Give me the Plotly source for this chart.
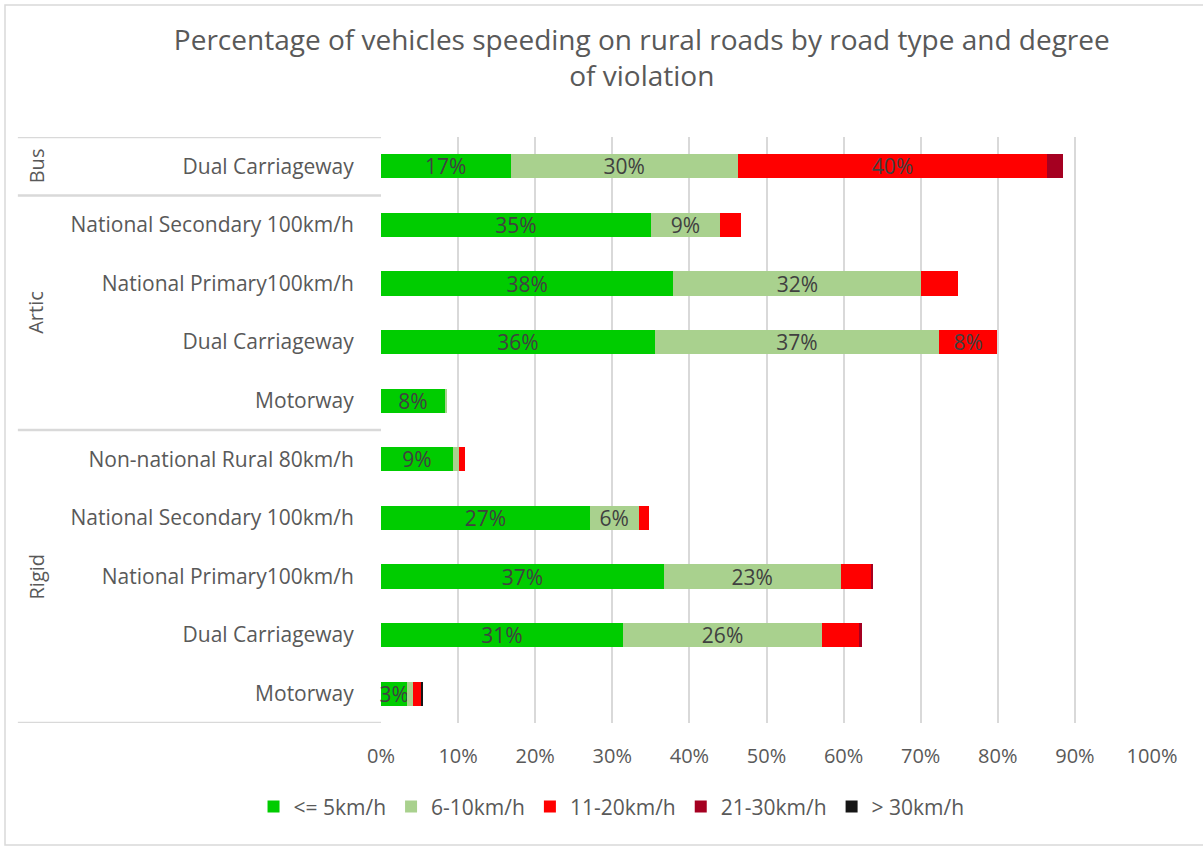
import plotly.graph_objects as go

groups = ["Bus", "Artic", "Artic", "Artic", "Artic", "Rigid", "Rigid", "Rigid", "Rigid", "Rigid"]
roads = ["Dual Carriageway", "National Secondary 100km/h", "National Primary100km/h",
         "Dual Carriageway", "Motorway", "Non-national Rural 80km/h",
         "National Secondary 100km/h", "National Primary100km/h", "Dual Carriageway", "Motorway"]

series_names = ["<= 5km/h", "6-10km/h", "11-20km/h", "21-30km/h", "> 30km/h"]
le5 = [16.8, 35.0, 37.9, 35.5, 8.3, 9.3, 27.1, 36.7, 31.4, 3.4]
s6_10 = [29.5, 9.0, 32.2, 36.9, 0.3, 0.8, 6.3, 22.9, 25.8, 0.8]
s11_20 = [40.1, 2.7, 4.8, 7.5, 0.0, 0.8, 1.4, 4.0, 4.8, 1.0]
s21_30 = [2.0, 0.0, 0.0, 0.0, 0.0, 0.0, 0.0, 0.2, 0.4, 0.1]
gt30 = [0.0, 0.0, 0.0, 0.0, 0.0, 0.0, 0.0, 0.0, 0.0, 0.15]

# which segments carry a data label in the reference
show_le5 = [True] * 10
show_6_10 = [True, True, True, True, False, False, True, True, True, False]
show_11_20 = [True, False, False, True, False, False, False, False, False, False]

colors = ["#00CC00", "#A9D18E", "#FF0000", "#A50021", "#161616"]
text_color = "#404040"
axis_text = "#595959"
grid_color = "#D9D9D9"
font_family = "Open Sans"

series = [le5, s6_10, s11_20, s21_30, gt30]
shows = [show_le5, show_6_10, show_11_20, [False] * 10, [False] * 10]

ypos = list(range(len(roads)))

fig = go.Figure()
for name, vals, col, sh in zip(series_names, series, colors, shows):
    fig.add_trace(go.Bar(
        y=ypos, x=[v / 100 for v in vals], name=name, orientation="h",
        marker=dict(color=col, line=dict(width=0)),
        text=[f"{round(v):d}%" if s else "" for v, s in zip(vals, sh)],
        textposition="inside", insidetextanchor="middle", textangle=0,
        textfont=dict(color=text_color, size=21, family=font_family),
        width=0.41, cliponaxis=False,
    ))

shapes = []
# group divider lines in the label area
for yv in [-0.5, 0.5, 4.5, 9.5]:
    shapes.append(dict(type="line", xref="paper", yref="y", x0=-0.471, x1=0.0, y0=yv, y1=yv,
                       line=dict(color=grid_color, width=2.5), layer="below"))
# chart border
shapes.append(dict(type="rect", xref="paper", yref="paper",
                   x0=(5 - 381) / 771, x1=(1205 - 381) / 771,
                   y0=(723 - 845) / 586, y1=(723 - 5) / 586,
                   line=dict(color=grid_color, width=1.5), fillcolor="rgba(0,0,0,0)", layer="below"))

annotations = []
for label, yc in [("Bus", 0), ("Artic", 2.5), ("Rigid", 7)]:
    annotations.append(dict(text=label, xref="paper", yref="y", x=(36 - 381) / 771, y=yc,
                            textangle=-90, showarrow=False, xanchor="center", yanchor="middle",
                            font=dict(size=20, color=axis_text, family=font_family)))

fig.update_layout(
    width=1203, height=846,
    margin=dict(l=381, r=51, t=137, b=123, autoexpand=False),
    paper_bgcolor="white", plot_bgcolor="white",
    barmode="stack", bargap=0.59,
    uniformtext=dict(minsize=21, mode="show"),
    title=dict(text="Percentage of vehicles speeding on rural roads by road type and degree<br>of violation",
               x=0.5335, xanchor="center", y=1 - 50 / 846, yanchor="middle",
               font=dict(size=28, color=axis_text, family=font_family)),
    font=dict(family=font_family, color=axis_text),
    xaxis=dict(range=[0, 1.0], dtick=0.1, tickformat=".0%", showgrid=True, gridcolor=grid_color,
               gridwidth=1.5, zeroline=False, showline=False, ticks="outside", ticklen=15,
               tickcolor="rgba(0,0,0,0)", tickfont=dict(size=20, color=axis_text, family=font_family)),
    yaxis=dict(range=[9.5, -0.5], tickmode="array", tickvals=ypos, ticktext=roads, showgrid=False,
               zeroline=False, showline=False, ticks="outside", ticklen=22, tickcolor="rgba(0,0,0,0)",
               tickfont=dict(size=21, color=axis_text, family=font_family)),
    legend=dict(orientation="h", x=0.299, xanchor="center", y=-0.143, yanchor="middle",
                font=dict(size=21, color=axis_text, family=font_family), traceorder="normal",
                itemwidth=30),
    shapes=shapes, annotations=annotations, showlegend=True,
)

fig.write_html("out.html", post_script="document.body.style.margin='0px';",
               config={"displayModeBar": False})
